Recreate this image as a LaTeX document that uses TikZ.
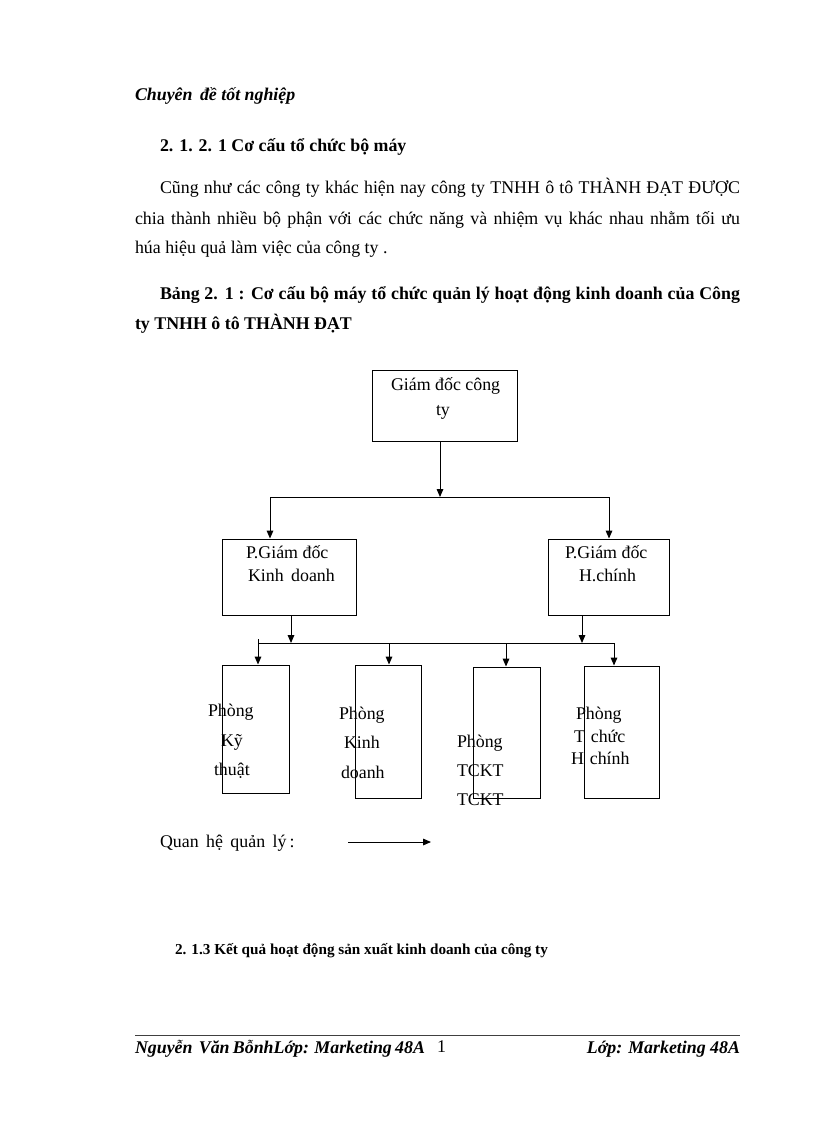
\documentclass[tikz,border=0pt]{standalone}
\usepackage{fontspec}
\setmainfont{Liberation Serif}
\usetikzlibrary{arrows.meta,fit}
\newcommand{\bodyfont}{\fontsize{13.4pt}{16pt}\selectfont}
\newcommand{\smallbold}{\fontsize{11.4pt}{14pt}\selectfont\bfseries}
\begin{document}
\begin{tikzpicture}[x=0.75pt,y=-0.75pt,
  txt/.style={inner sep=0pt, outer sep=0pt, anchor=base west, font=\bodyfont},
  boxst/.style={draw, inner sep=0pt, line width=0.75pt},
  ln/.style={line width=0.75pt},
  arr/.style={line width=0.75pt, -{Triangle[length=6pt,width=5pt]}}]
\useasboundingbox (0,0) rectangle (816,1123);
\fill[white] (0,0) rectangle (816,1123);

% header and text
\node[txt, font=\bodyfont\bfseries\itshape] (hdr) at (135,101) {Chuyên\, đề tốt nghiệp};
\node[txt, font=\bodyfont\bfseries] (sec) at (160,152) {2. 1. 2. 1 Cơ cấu tổ chức bộ máy};
\node[txt] (p1) at (160,194) {\makebox[435pt][s]{Cũng như các công ty khác hiện nay công ty TNHH ô tô THÀNH ĐẠT ĐƯỢC}};
\node[txt] (p2) at (135,224) {\makebox[453.75pt][s]{chia thành nhiều bộ phận với các chức năng và nhiệm vụ khác nhau nhằm tối ưu}};
\node[txt] (p3) at (135,253) {húa hiệu quả làm việc của công ty .};
\node[txt, font=\bodyfont\bfseries] (t1) at (160,299) {\makebox[435pt][s]{Bảng 2. 1 : Cơ cấu bộ máy tổ chức quản lý hoạt động kinh doanh của Công}};
\node[txt, font=\bodyfont\bfseries] (t2) at (135,329) {ty TNHH ô tô THÀNH ĐẠT};

% boxes
\node[boxst, fit={(372,370) (517,441)}] (gd) {};
\node[boxst, fit={(222,539) (356,615)}] (kd) {};
\node[boxst, fit={(548,539) (669,615)}] (hc) {};
\node[boxst, fit={(222,665) (289,793)}] (pk) {};
\node[boxst, fit={(355,665) (421,798)}] (pd) {};
\node[boxst, fit={(473,667) (540,798)}] (pt) {};
\node[boxst, fit={(584,666) (659,798)}] (ph) {};

% box texts
\node[txt] (gd1) at (391,390) {Giám đốc công};
\node[txt] (gd2) at (436,415) {ty};
\node[txt] (kd1) at (246,558) {P.Giám đốc};
\node[txt] (kd2) at (248,581) {Kinh\, doanh};
\node[txt] (hc1) at (565,558) {P.Giám đốc};
\node[txt] (hc2) at (579,581) {H.chính};
\node[txt] (pk1) at (208,716) {Phòng};
\node[txt] (pk2) at (221,746) {Kỹ};
\node[txt] (pk3) at (214,775) {thuật};
\node[txt] (pd1) at (339,719) {Phòng};
\node[txt] (pd2) at (344,748) {Kinh};
\node[txt] (pd3) at (341,778) {doanh};
\node[txt] (pt1) at (457,747) {Phòng};
\node[txt] (pt2) at (457,776) {TCKT};
\node[txt] (pt3) at (457,805) {TCKT};
\node[txt] (ph1) at (576,719) {Phòng};
\node[txt] (ph2) at (574,742) {T\,\,chức};
\node[txt] (ph3) at (571,764) {H\,\,chính};

% connectors
\coordinate (j1) at (440,497);
\coordinate (jl) at (270,497);
\coordinate (jr) at (609,497);
\draw[arr] (gd.south -| j1) -- (j1);
\draw[ln] (jl) -- (jr);
\draw[arr] (jl) -- (jl |- kd.north);
\draw[arr] (jr) -- (jr |- hc.north);
\coordinate (j2) at (291,643);
\coordinate (j3) at (582,643);
\draw[arr] (kd.south -| j2) -- (j2);
\draw[arr] (hc.south -| j3) -- (j3);
\coordinate (stub) at (258,639);
\coordinate (b1) at (258,643);
\coordinate (b2) at (389,643);
\coordinate (b3) at (506,643);
\coordinate (b4) at (614,643);
\draw[ln] (stub) -- (b1) -- (b4);
\draw[arr] (b1) -- (b1 |- pk.north);
\draw[arr] (b2) -- (b2 |- pd.north);
\draw[arr] (b3) -- (b3 |- pt.north);
\draw[arr] (b4) -- (b4 |- ph.north);

% legend
\node[txt] (leg) at (160,847) {Quan\, hệ\, quản\, lý\,:};
\coordinate (la) at (348,842);
\coordinate (lb) at (431,842);
\draw[arr] (la) -- (lb);

\node[txt, font=\smallbold] (s13) at (175,954) {2. 1.3 Kết quả hoạt động sản xuất kinh doanh của công ty};

% footer
\coordinate (fl) at (135,1035);
\coordinate (fr) at (740,1035);
\draw[line width=0.75pt, black!75] (fl) -- (fr);
\node[txt, font=\bodyfont\bfseries\itshape] (f1) at (135,1053) {\makebox[217.5pt][s]{Nguyễn\, Văn BỗnhLớp: Marketing 48A}};
\node[txt] (f2) at (437,1052) {1};
\node[txt, anchor=base east, font=\bodyfont\bfseries\itshape] (f3) at (740,1053) {Lớp: Marketing 48A};
\end{tikzpicture}
\end{document}
